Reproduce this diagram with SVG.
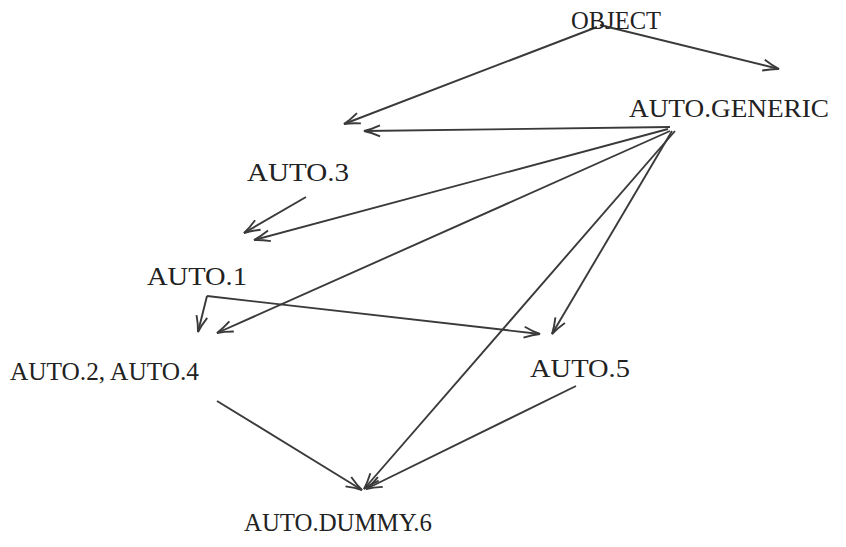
<svg xmlns="http://www.w3.org/2000/svg" width="846" height="547" viewBox="0 0 846 547">
  <style>
    .lbl { font-family: "Liberation Serif", "DejaVu Serif", serif; font-size: 26px; fill: #222; }
    .edge { stroke: #3a3a3a; stroke-width: 1.9; fill: none; marker-end: url(#arr); }
  </style>
  <defs>
    <!-- open "->" arrowhead drawn as two strokes -->
    <marker id="arr" viewBox="-18 -8 20 16" refX="0" refY="0" markerWidth="20" markerHeight="16" markerUnits="userSpaceOnUse" orient="auto">
      <path d="M-16,-5.5 Q-7,-1.5 0,0 Q-7,1.5 -16,5.5" stroke="#3a3a3a" stroke-width="1.9" fill="none"/>
    </marker>
  </defs>
  <rect width="846" height="547" fill="#fff"/>

  <g id="edges">
    <line class="edge" x1="597" y1="27" x2="344" y2="124"/>
    <line class="edge" x1="600" y1="25" x2="779" y2="69"/>
    <line class="edge" x1="670" y1="127" x2="364" y2="131"/>
    <line class="edge" x1="668" y1="129" x2="254" y2="240"/>
    <line class="edge" x1="306" y1="197" x2="244" y2="233"/>
    <line class="edge" x1="670" y1="131" x2="217" y2="333"/>
    <line class="edge" x1="207" y1="296" x2="198" y2="332"/>
    <line class="edge" x1="207" y1="296" x2="540" y2="334"/>
    <line class="edge" x1="672" y1="131" x2="552" y2="334"/>
    <line class="edge" x1="675" y1="131" x2="364" y2="489"/>
    <line class="edge" x1="217" y1="401" x2="362" y2="490"/>
    <line class="edge" x1="576" y1="386" x2="366" y2="489"/>
  </g>

  <g id="object"><text class="lbl" x="571" y="29" textLength="90" lengthAdjust="spacingAndGlyphs">OBJECT</text></g>
  <g id="auto-generic"><text class="lbl" x="629" y="117" textLength="200" lengthAdjust="spacingAndGlyphs">AUTO.GENERIC</text></g>
  <g id="auto-3"><text class="lbl" x="247" y="181" textLength="102" lengthAdjust="spacingAndGlyphs">AUTO.3</text></g>
  <g id="auto-1"><text class="lbl" x="147" y="285" textLength="100" lengthAdjust="spacingAndGlyphs">AUTO.1</text></g>
  <g id="auto-2-4"><text class="lbl" x="10" y="380" textLength="189" lengthAdjust="spacingAndGlyphs">AUTO.2, AUTO.4</text></g>
  <g id="auto-5"><text class="lbl" x="530" y="377" textLength="100" lengthAdjust="spacingAndGlyphs">AUTO.5</text></g>
  <g id="auto-dummy-6"><text class="lbl" x="244" y="531" textLength="188" lengthAdjust="spacingAndGlyphs">AUTO.DUMMY.6</text></g>
</svg>
